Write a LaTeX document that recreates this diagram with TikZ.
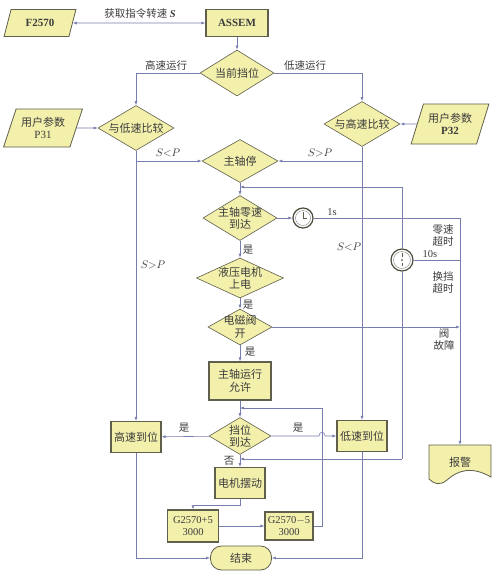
\documentclass[tikz,border=0pt]{standalone}
\usepackage{fontspec}
\setmainfont{Noto Sans CJK SC}
\newfontfamily\lat{Liberation Serif}
\usetikzlibrary{shapes.geometric,arrows.meta}
\definecolor{boxfill}{RGB}{243,240,172}
\definecolor{boxline}{RGB}{95,95,75}
\definecolor{conncol}{RGB}{120,125,175}
\definecolor{txt}{RGB}{60,60,60}
\begin{document}
\begin{tikzpicture}[x=1pt,y=-1pt,
  base/.style={draw=boxline, fill=boxfill, text=txt, font=\fontsize{11}{12.5}\selectfont, inner sep=0pt, align=center, line width=0.8pt},
  proc/.style={base, rectangle, line width=1.1pt},
  latproc/.style={proc, font=\lat\fontsize{10.5}{12}\selectfont},
  dec/.style={base, diamond, line width=0.6pt},
  dectext/.style={text=txt, font=\fontsize{11}{12.5}\selectfont, inner sep=0pt, align=center},
  io/.style={base, trapezium, trapezium left angle=65, trapezium right angle=115, trapezium stretches=true},
  term/.style={base, rectangle, rounded corners=11pt},
  clock/.style={circle, draw=boxline!80!black, fill=white, line width=1.2pt, inner sep=0pt},
  link/.style={draw=conncol, line width=0.6pt},
  arr/.style={link, -{Latex[length=4pt,width=3pt]}},
  lbl/.style={text=txt, font=\fontsize{10.5}{12}\selectfont, inner sep=0pt, align=center}]
\fill[white] (0,0) rectangle (500,576);
\useasboundingbox (0,0) rectangle (500,576);
% nodes
\node[io, minimum width=72pt, minimum height=27pt, font=\lat\bfseries\fontsize{11}{12}\selectfont] (f2570) at (40,23) {F2570};
\node[proc, minimum width=62pt, minimum height=27pt, font=\lat\bfseries\fontsize{11}{12}\selectfont] (assem) at (237,23) {ASSEM};
\node[dec, minimum width=74pt, minimum height=46pt, label={[dectext]center:当前挡位}] (gear) at (237,73) {};
\node[dec, minimum width=76pt, minimum height=45pt, label={[dectext]center:与低速比较}] (cmplo) at (136,128) {};
\node[dec, minimum width=76pt, minimum height=45pt, label={[dectext]center:与高速比较}] (cmphi) at (362,124) {};
\node[io, minimum width=79pt, minimum height=38pt] (p31) at (43,128) {用户参数\\{\lat P31}};
\node[io, minimum width=78pt, minimum height=40pt] (p32) at (450,124) {用户参数\\{\lat\bfseries P32}};
\node[dec, minimum width=76pt, minimum height=43pt, label={[dectext]center:主轴停}] (stop) at (240,161) {};
\node[dec, minimum width=74pt, minimum height=45pt, label={[dectext]center:主轴零速\\到达}] (zero) at (240,218) {};
\node[dec, minimum width=87pt, minimum height=40pt, label={[dectext]center:液压电机\\上电}] (hyd) at (240,278) {};
\node[dec, minimum width=64pt, minimum height=36pt, label={[dectext]center:电磁阀\\开}] (valve) at (240,327) {};
\node[proc, minimum width=62pt, minimum height=38pt] (run) at (240,381) {主轴运行\\允许};
\node[dec, minimum width=62pt, minimum height=37pt, label={[dectext]center:挡位\\到达}] (arrive) at (240,436) {};
\node[proc, minimum width=50pt, minimum height=31pt] (hipos) at (136,437) {高速到位};
\node[proc, minimum width=50pt, minimum height=31pt] (lopos) at (362,436) {低速到位};
\node[proc, minimum width=50pt, minimum height=31pt] (swing) at (240,483) {电机摆动};
\node[latproc, minimum width=51pt, minimum height=32pt] (g1) at (193,526) {G2570+5\\3000};
\node[latproc, minimum width=48pt, minimum height=28pt] (g2) at (289,526) {G2570$-$5\\3000};
\node[term, minimum width=61pt, minimum height=24pt] (end) at (241,558) {结束};
% alarm (document shape)
\draw[draw=boxline, fill=boxfill, line width=0.8pt] (429,445) -- (491,445) -- (491,477)
  .. controls (472,466) and (458,470) .. (447,480) .. controls (440,486) and (434,484) .. (429,479) -- cycle;
\node[lbl, minimum width=62pt, minimum height=34pt, font=\fontsize{11}{12.5}\selectfont] (alarm) at (460,462) {报警};
% clocks
\node[clock, minimum size=20pt] (clk1) at (303,218) {};
\draw[gray, line width=0.4pt] (clk1.center) circle (7.5pt);
\draw[boxline, line width=0.9pt] (clk1.center) -- ++(0,-6) (clk1.center) -- ++(4,0);
\node[clock, minimum size=22pt] (clk2) at (402,260) {};
\draw[gray, line width=0.4pt] (clk2.center) circle (8.5pt);
\draw[boxline, line width=0.9pt] (clk2.center) ++(0,-7) -- ++(0,4) (clk2.center) ++(0,3) -- ++(0,3);
\fill[boxline] (clk2.center) circle (1pt);
% coordinates
\coordinate (jl) at (136,161);
\coordinate (jr) at (362,161);
\coordinate (fbtop) at (402,187);
\coordinate (fbtopin) at (240,187);
\coordinate (fbbot) at (402,459);
\coordinate (fbbotin) at (240,459);
\coordinate (al1) at (460,218);
\coordinate (al2) at (460,260);
\coordinate (al3) at (460,327);
\coordinate (loopx) at (322,408);
\coordinate (loopin) at (240,408);
\coordinate (hopa) at (319,436);
\coordinate (hopb) at (325,436);
% connectors
\draw[link, {Latex[length=4pt,width=3pt]}-{Latex[length=4pt,width=3pt]}] (f2570) -- (assem);
\node[lbl] (ls) at (140,14) {获取指令转速 {\lat\itshape\bfseries S}};
\draw[arr] (assem) -- (gear);
\draw[arr] (gear.west) -| (cmplo.north);
\node[lbl] (lhs) at (166,66) {高速运行};
\draw[arr] (gear.east) -| (cmphi.north);
\node[lbl] (lls) at (305,66) {低速运行};
\draw[arr] (p31.east) -- (cmplo.west);
\draw[arr] (p32.west) -- (cmphi.east);
\draw[arr] (cmplo.south) -- (hipos.north);
\draw[arr] (jl) -- (stop.west);
\draw[arr] (cmphi.south) -- (lopos.north);
\draw[arr] (jr) -- (stop.east);
\node[lbl] (l1) at (168,153) {$S{<}P$};
\node[lbl] (l2) at (320,153) {$S{>}P$};
\node[lbl] (l3) at (153,265) {$S{>}P$};
\node[lbl] (l4) at (349,247) {$S{<}P$};
\draw[arr] (stop) -- (zero);
\draw[arr] (fbtop) -- (fbtopin);
\draw[link] (fbtop) -- (clk2.north);
\draw[link] (clk2.south) -- (fbbot);
\draw[arr] (fbbot) -- (fbbotin);
\draw[arr] (zero) -- (clk1);
\draw[link] (clk1.east) -- (al1);
\node[lbl] (l1s) at (332,212) {{\lat 1s}};
\draw[link] (clk2.east) -- (al2);
\node[lbl] (l10s) at (430,254) {{\lat 10s}};
\node[lbl] (lzt) at (443,236) {零速\\超时};
\node[lbl] (lht) at (443,283) {换挡\\超时};
\draw[arr] (valve.east) -- (al3);
\node[lbl] (lvf) at (444,340) {阀\\故障};
\draw[arr] (al1) -- (alarm.north);
\draw[arr] (zero) -- (hyd);
\node[lbl] (y1) at (248,250) {是};
\draw[arr] (hyd) -- (valve);
\node[lbl] (y2) at (248,305) {是};
\draw[arr] (valve) -- (run);
\node[lbl] (y3) at (250,352) {是};
\draw[arr] (run) -- (arrive);
\draw[arr] (arrive) -- (hipos);
\node[lbl] (y4) at (184,428) {是};
\draw[arr] (arrive.east) -- (hopa) .. controls (319,431) and (325,431) .. (hopb) -- (lopos.west);
\node[lbl] (y5) at (298,428) {是};
\draw[arr] (arrive) -- (swing);
\node[lbl] (n1) at (229,461) {否};
\draw[arr] (swing.south) -- ++(0,6) -| (g1.north);
\draw[arr] (g1) -- (g2);
\draw[arr] (g2.east) -- (g2.east -| loopx) -- (loopx) -- (loopin);
\draw[arr] (hipos.south) |- (end.west);
\draw[arr] (lopos.south) |- (end.east);
\end{tikzpicture}
\end{document}
